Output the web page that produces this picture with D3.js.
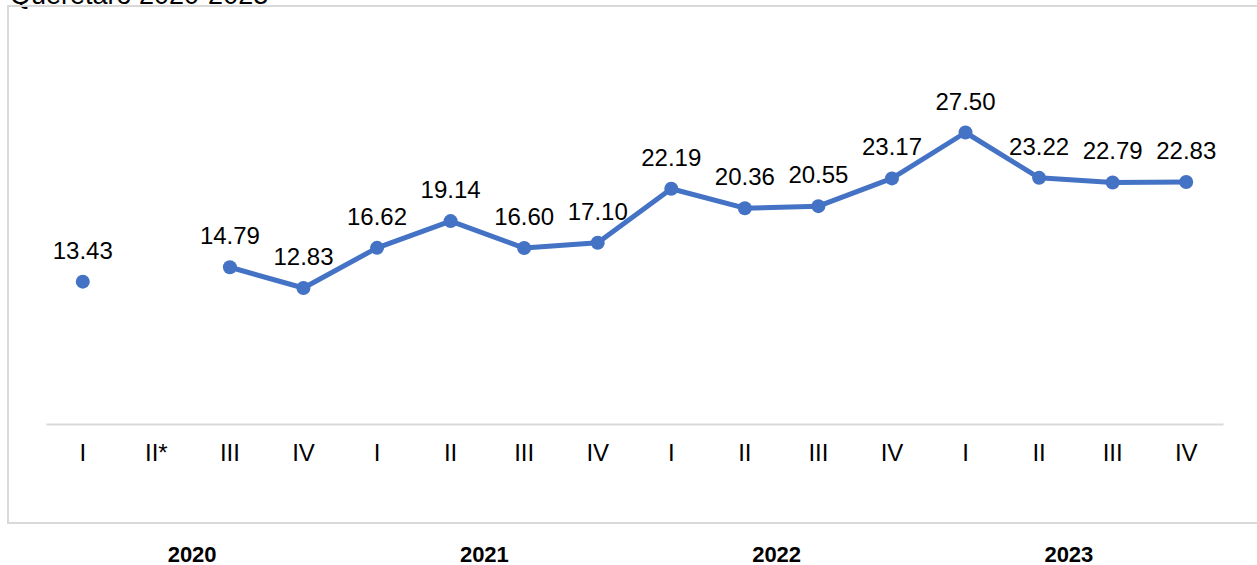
<!DOCTYPE html>
<html>
<head>
<meta charset="utf-8">
<script src="https://cdn.jsdelivr.net/npm/d3@7"></script>
<style>
  html, body { margin: 0; padding: 0; background: #fff; }
  svg { display: block; font-family: "Liberation Sans", Arial, sans-serif; }
</style>
</head>
<body>
<svg id="chart" width="1257" height="565"></svg>
<script>
const quarters = ["I","II*","III","IV","I","II","III","IV","I","II","III","IV","I","II","III","IV"];
const values = [13.43, null, 14.79, 12.83, 16.62, 19.14, 16.60, 17.10, 22.19, 20.36, 20.55, 23.17, 27.50, 23.22, 22.79, 22.83];
const years = ["2020","2021","2022","2023"];
const titleText = "Querétaro 2020-2023";

const svg = d3.select("#chart");

// title (cut off at top, as in the reference)
svg.append("text").attr("x", 10).attr("y", 4)
  .attr("font-size", 27).attr("fill", "#000").text(titleText);

// frame
svg.append("rect").attr("x", 8).attr("y", 6).attr("width", 1260).attr("height", 517)
  .attr("fill", "none").attr("stroke", "#d9d9d9").attr("stroke-width", 2);

const idx = d3.range(quarters.length);
const x = d3.scaleBand().domain(idx).range([46, 1223]).padding(0);
const y = d3.scaleLinear().domain([0, 35]).range([424, 53]);
const cx = i => x(i) + x.bandwidth() / 2;

// axis
const axis = d3.axisBottom(x).tickSize(0).tickPadding(0).tickFormat(i => quarters[i]);
const gAxis = svg.append("g").attr("transform", "translate(0,424)").call(axis);
gAxis.select(".domain").attr("stroke", "#d9d9d9").attr("stroke-width", 2);
gAxis.selectAll("text").attr("font-size", 24).attr("fill", "#000")
  .attr("dy", null).attr("y", 37).attr("font-family", "Liberation Sans, Arial, sans-serif");

// year labels
const yearScale = d3.scaleBand().domain(years).range([46, 1215]);
svg.selectAll(".year").data(years).enter().append("text")
  .attr("x", d => yearScale(d) + yearScale.bandwidth() / 2)
  .attr("y", 562).attr("text-anchor", "middle")
  .attr("font-size", 22).attr("font-weight", "bold").attr("fill", "#000").text(d => d);

// line
const pts = idx.map(i => ({ i, v: values[i] }));
const line = d3.line().defined(d => d.v !== null).x(d => cx(d.i)).y(d => y(d.v));
svg.append("path").datum(pts).attr("d", line)
  .attr("fill", "none").attr("stroke", "#4472C4").attr("stroke-width", 5)
  .attr("stroke-linejoin", "round");

const valid = pts.filter(d => d.v !== null);
svg.selectAll(".dot").data(valid).enter().append("circle")
  .attr("cx", d => cx(d.i)).attr("cy", d => y(d.v)).attr("r", 7)
  .attr("fill", "#4472C4");

svg.selectAll(".lbl").data(valid).enter().append("text")
  .attr("x", d => cx(d.i)).attr("y", d => y(d.v) - 23)
  .attr("text-anchor", "middle").attr("font-size", 24).attr("fill", "#000")
  .text(d => d.v.toFixed(2));
</script>
</body>
</html>
